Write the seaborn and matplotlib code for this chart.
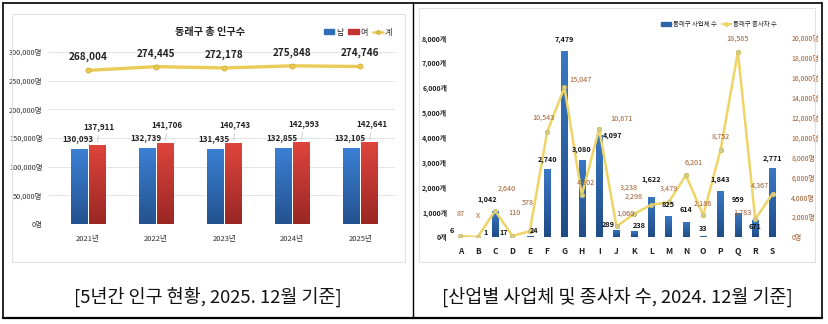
import matplotlib
matplotlib.use('Agg')
import matplotlib.pyplot as plt
from matplotlib.lines import Line2D
from matplotlib.patches import Rectangle, Patch
from matplotlib.colors import LinearSegmentedColormap
from matplotlib import font_manager
import numpy as np
import pandas as pd
import seaborn as sns

# ---- data: 5년간 인구 현황 ----
years = ['2021년', '2022년', '2023년', '2024년', '2025년']
male = [130093, 132739, 131435, 132855, 132105]
female = [137911, 141706, 140743, 142993, 142641]
total = [268004, 274445, 272178, 275848, 274746]

# ---- data: 산업별 사업체 및 종사자 수 ----
industries = list('ABCDEFGHIJKLMNOPQRS')
firms = [6, 1, 1042, 17, 24, 2740, 7479, 3080, 4097, 289, 238, 1622, 825, 614, 33, 1843, 959, 671, 2771]
workers = [87, 0, 2640, 110, 578, 10543, 15047, 4202, 10871, 1060, 2298, 3238, 3479, 6201, 2186, 8752, 18585, 1783, 4367]
hidden_workers = ['B']  # shown as "X"

# label offsets in pixels (dx, dy) -- placement only
firm_off = [(-9, 3), (8, 1), (-8, 8), (-9, 1), (4, 2), (0, 6), (0, 8), (0, 7), (13, -4), (-8, 2),
            (5, 2), (0, 14), (0, 8), (0, 9), (0, 4), (0, 8), (0, 10), (0, -10), (0, 6)]
work_off = [(0, 18), (0, 17), (12, 18), (2, 19), (-2, 24), (-4, 10), (16, 4), (4, 9), (22, 6), (9, 9),
            (0, 13), (-22, 13), (0, 10), (8, 9), (0, 8), (0, 9), (0, 9), (-13, 3), (-13, 4)]

W, H = 829, 324


def rect(x0, y0, x1, y1):
    return [x0 / W, 1 - y1 / H, (x1 - x0) / W, (y1 - y0) / H]


def gradient_bars(ax, patches, top, bottom):
    cmap = LinearSegmentedColormap.from_list('g', [bottom, top])
    grad = np.linspace(0, 1, 64).reshape(-1, 1)
    for p in patches:
        x, y, w, h = p.get_x(), p.get_y(), p.get_width(), p.get_height()
        if h <= 0:
            continue
        im = ax.imshow(grad, cmap=cmap, extent=(x, x + w, y, y + h), origin='lower',
                       aspect='auto', zorder=p.get_zorder())
        im.set_clip_path(p)
        p.set_facecolor('none')
        p.set_edgecolor('none')


sns.set_theme(style='white')
plt.rcParams['font.family'] = ['Noto Sans CJK KR', 'DejaVu Sans']
names = {f.name for f in font_manager.fontManager.ttflist}
NARROW = ['Liberation Sans Narrow', 'Noto Sans CJK KR'] if 'Liberation Sans Narrow' in names \
    else ['Noto Sans CJK KR', 'DejaVu Sans']

fig = plt.figure(figsize=(W / 100, H / 100), dpi=100)
fig.patch.set_facecolor('white')

# table lines
for xs, ys, lw in [([3, 822], [3, 3], 1.2), ([3, 822], [318, 318], 1.6),
                   ([3, 3], [3, 318], 1.2), ([822, 822], [3, 318], 1.2), ([413, 413], [3, 318], 1.0)]:
    fig.add_artist(Line2D([x / W for x in xs], [1 - y / H for y in ys], color='black', lw=lw))
# faint chart frames
for x0, y0, x1, y1 in [(12, 14, 405, 262), (419, 8, 815, 262)]:
    fig.add_artist(Rectangle((x0 / W, 1 - y1 / H), (x1 - x0) / W, (y1 - y0) / H,
                             transform=fig.transFigure, fill=False, ec='#e2e2e2', lw=0.8))

# ================= left chart =================
BLUE, RED, YEL = '#2F6DB8', '#C23530', '#EBCB58'
ax1 = fig.add_axes(rect(48, 52, 395, 224))
df_pop = pd.DataFrame({'year': years * 2, 'sex': ['남'] * 5 + ['여'] * 5, 'value': male + female})
sns.barplot(data=df_pop, x='year', y='value', hue='sex', palette=[BLUE, RED],
            width=0.54, gap=0.12, ax=ax1, legend=False, zorder=2)
bars = list(ax1.patches)
gradient_bars(ax1, bars[:5], '#3C80D4', '#23528F')
gradient_bars(ax1, bars[5:10], '#DE453C', '#9A2724')
sns.lineplot(x=np.arange(len(years)), y=total, ax=ax1, color=YEL, lw=2.4, marker='o',
             markersize=3.5, markeredgecolor='#D6B43C', zorder=4)

ax1.set_xlim(-0.59, 4.51)
ax1.set_ylim(0, 300000)
ax1.set_yticks(range(0, 300001, 50000))
ax1.set_yticklabels([f'{v:,}명' for v in range(0, 300001, 50000)], fontsize=5.3, color='#333333',
                    family=NARROW)
ax1.set_xticks(range(len(years)))
ax1.set_xticklabels(years, fontsize=5.5, color='#333333', family=NARROW)
ax1.set_xlabel('')
ax1.set_ylabel('')
ax1.grid(axis='y', color='#e4e4e4', lw=0.7)
ax1.set_axisbelow(True)
for s in ax1.spines.values():
    s.set_visible(False)
ax1.tick_params(length=0, pad=4)
ax1.tick_params(axis='x', pad=8)

for i in range(len(years)):
    bm, bf = bars[i], bars[5 + i]
    ax1.annotate(f'{male[i]:,}', (bm.get_x() + bm.get_width() / 2, male[i]),
                 xytext=(-1, 6), textcoords='offset pixels', ha='center', va='bottom',
                 fontsize=5.8, fontweight='bold', color='#222222', family=NARROW)
    ax1.annotate(f'{female[i]:,}', (bf.get_x() + bf.get_width() / 2, female[i]),
                 xytext=(2, 14), textcoords='offset pixels', ha='center', va='bottom',
                 fontsize=5.8, fontweight='bold', color='#222222', family=NARROW,
                 arrowprops=dict(arrowstyle='-', color='#bbbbbb', lw=0.5, shrinkA=1, shrinkB=2))
    ax1.annotate(f'{total[i]:,}', (i, total[i]), xytext=(0, 8), textcoords='offset pixels',
                 ha='center', va='bottom', fontsize=7.2, fontweight='bold', color='#222222',
                 family=NARROW)

fig.text(210 / W, 1 - 32 / H, '동래구 총 인구수', ha='center', va='center', fontsize=7.3,
         fontweight='bold', color='#222222')
h_left = [Patch(color=BLUE), Patch(color=RED),
          Line2D([], [], color=YEL, lw=1.8, marker='o', markersize=2.5, markeredgecolor='#D6B43C')]
ax1.legend(h_left, ['남', '여', '계'], loc='center', bbox_to_anchor=(358 / W, 1 - 32 / H),
           bbox_transform=fig.transFigure, ncol=3, frameon=False, fontsize=5.8,
           handlelength=1.3, handleheight=0.5, columnspacing=0.6, handletextpad=0.2)

# ================= right chart =================
BLUE2, YEL2, BROWN = '#2D63A8', '#EFD467', '#A0592A'
ax2 = fig.add_axes(rect(450, 38, 783, 237))
sns.barplot(x=industries, y=firms, color=BLUE2, width=0.37, ax=ax2, zorder=2)
gradient_bars(ax2, list(ax2.patches), '#3A78C4', '#1E4C86')
ax2.set_xlim(-0.6, 18.6)
ax2.set_ylim(0, 8000)
ax2.set_yticks(range(0, 8001, 1000))
ax2.set_yticklabels([f'{v:,}개' for v in range(0, 8001, 1000)], fontsize=5, color='#222222',
                    family=NARROW, fontweight='bold')
ax2.set_xticks(range(len(industries)))
ax2.set_xticklabels(industries, fontsize=6, fontweight='bold', color='#222222', family=NARROW)
ax2.tick_params(length=0, pad=2)
ax2.tick_params(axis='x', pad=7)
for s in ax2.spines.values():
    s.set_visible(False)

ax3 = ax2.twinx()
sns.lineplot(x=np.arange(len(industries)), y=workers, ax=ax3, color=YEL2, lw=1.8, marker='o',
             markersize=3, markerfacecolor='#D8D08A', markeredgecolor='#C9BE6A', zorder=4)
ax3.set_ylim(0, 20000)
ax3.set_yticks(range(0, 20001, 2000))
ax3.set_yticklabels([f'{v:,}명' for v in range(0, 20001, 2000)], fontsize=5, color=BROWN,
                    family=NARROW)
ax3.tick_params(length=0, pad=6)
ax3.set_ylabel('')
ax3.grid(False)
ax2.grid(False)
for s in ax3.spines.values():
    s.set_visible(False)

for i, lab in enumerate(industries):
    dx, dy = firm_off[i]
    ax3.annotate(f'{firms[i]:,}', (i, firms[i]), xycoords=ax2.transData, xytext=(dx, dy),
                 textcoords='offset pixels', ha='center', va='bottom', fontsize=5.2,
                 fontweight='bold', color='#111111', family=NARROW, zorder=6)
    dx, dy = work_off[i]
    txt = 'X' if lab in hidden_workers else f'{workers[i]:,}'
    ax3.annotate(txt, (i, workers[i]), xytext=(dx, dy), textcoords='offset pixels',
                 ha='center', va='bottom', fontsize=5.2, color=BROWN, family=NARROW, zorder=6)

h_right = [Patch(color=BLUE2), Line2D([], [], color=YEL2, lw=1.5, marker='o', markersize=2.5)]
ax3.legend(h_right, ['동래구 사업체 수', '동래구 종사자 수'], loc='center',
           bbox_to_anchor=(719 / W, 1 - 24 / H), bbox_transform=fig.transFigure, ncol=2,
           frameon=False, fontsize=4.6, handlelength=1.5, handleheight=0.5,
           columnspacing=0.8, handletextpad=0.3)

# captions
fig.text(208 / W, 1 - 297 / H, '[5년간 인구 현황, 2025. 12월 기준]', ha='center', va='center',
         fontsize=13.3, color='#111111')
fig.text(617 / W, 1 - 297 / H, '[산업별 사업체 및 종사자 수, 2024. 12월 기준]', ha='center',
         va='center', fontsize=13.3, color='#111111')

fig.savefig('out.png', dpi=100, facecolor='white')
